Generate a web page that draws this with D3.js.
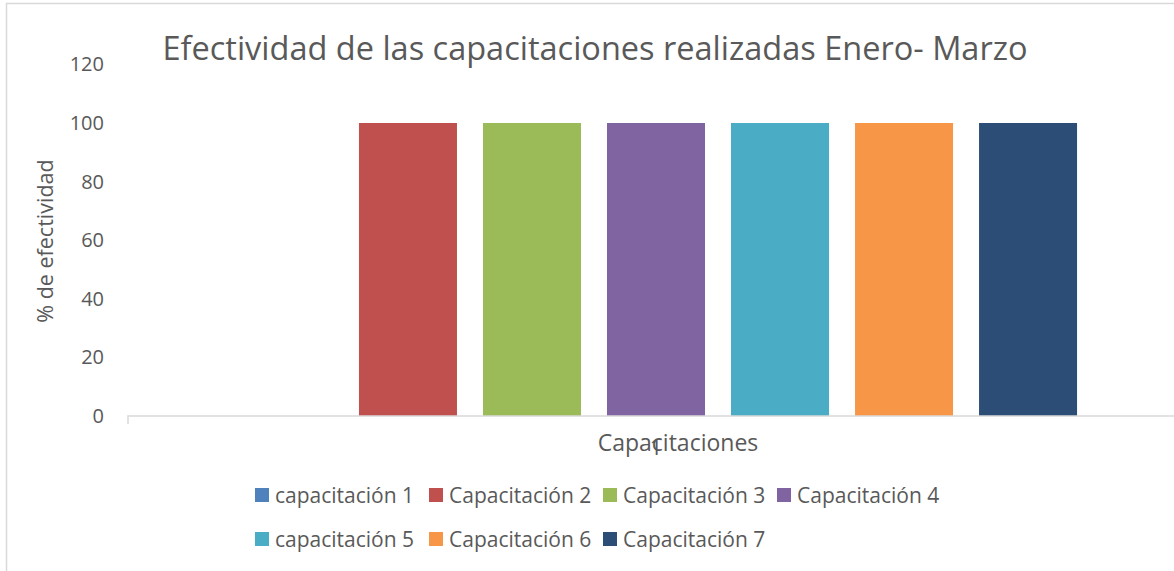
<!DOCTYPE html>
<html>
<head>
<meta charset="utf-8">
<script src="https://cdn.jsdelivr.net/npm/d3@7"></script>
<style>
  html, body { margin: 0; padding: 0; background: #fff; }
  svg { display: block; font-family: "Open Sans", sans-serif; }
</style>
</head>
<body>
<svg id="chart" width="1174" height="571"></svg>
<script>
const title = "Efectividad de las capacitaciones realizadas Enero- Marzo";
const yAxisTitle = "% de efectividad";
const xAxisTitle = "Capacitaciones";
const categories = ["1"];
const seriesNames = ["capacitación 1", "Capacitación 2", "Capacitación 3", "Capacitación 4", "capacitación 5", "Capacitación 6", "Capacitación 7"];
const seriesValues = [0, 100, 100, 100, 100, 100, 100];
const seriesColors = ["#4F81BD", "#C0504D", "#9BBB59", "#8064A2", "#4BACC6", "#F79646", "#2C4D75"];
const yTicks = [0, 20, 40, 60, 80, 100, 120];

const svg = d3.select("#chart");
const textColor = "#595959";

// chart area border
svg.append("rect").attr("x", 6.5).attr("y", 3.5).attr("width", 1177).attr("height", 600)
  .attr("fill", "#fff").attr("stroke", "#d9d9d9").attr("stroke-width", 1.5);

const plot = { left: 128, right: 1184, top: 64.4, bottom: 416 };

const x0 = d3.scaleBand().domain(categories).range([plot.left, plot.right])
  .paddingInner(0).paddingOuter(0.127);
const x1 = d3.scaleBand().domain(seriesNames).range([0, x0.bandwidth()])
  .paddingInner(0.2097).paddingOuter(0);
const y = d3.scaleLinear().domain([0, 120]).range([plot.bottom, plot.top]);

// title
svg.append("text").attr("x", 595).attr("y", 60).attr("text-anchor", "middle")
  .attr("font-size", 32.5).attr("fill", textColor).text(title);

// y axis labels
const yAxis = d3.axisLeft(y).tickValues(yTicks).tickSize(0).tickPadding(0);
const gy = svg.append("g").attr("transform", `translate(104,0)`).call(yAxis);
gy.select(".domain").remove();
gy.selectAll("text").attr("font-size", 20).attr("fill", textColor)
  .attr("font-family", "Open Sans, sans-serif");

// bars
const groups = svg.append("g").selectAll("g").data(categories).join("g")
  .attr("transform", d => `translate(${x0(d)},0)`);
groups.selectAll("rect")
  .data(() => seriesNames.map((s, i) => ({ s, v: seriesValues[i], c: seriesColors[i] })))
  .join("rect")
  .attr("x", d => x1(d.s)).attr("width", x1.bandwidth())
  .attr("y", d => y(d.v)).attr("height", d => y(0) - y(d.v))
  .attr("fill", d => d.c);

// x axis
const xAxis = d3.axisBottom(x0).tickSize(0).tickPadding(0);
const gx = svg.append("g").attr("transform", `translate(0,${plot.bottom})`).call(xAxis);
gx.select(".domain").attr("stroke", "#d9d9d9").attr("stroke-width", 1.5)
  .attr("d", `M${plot.left},8V0H${plot.right}V8`);
gx.selectAll("text").attr("font-size", 22).attr("fill", textColor)
  .attr("font-family", "Open Sans, sans-serif").attr("dy", null).attr("y", 39);

// axis titles
svg.append("text").attr("x", 678).attr("y", 451).attr("text-anchor", "middle")
  .attr("font-size", 23).attr("fill", textColor).text(xAxisTitle);
svg.append("text").attr("transform", "translate(53,241) rotate(-90)")
  .attr("text-anchor", "middle").attr("font-size", 21.5).attr("fill", textColor).text(yAxisTitle);

// legend
const legCols = [255, 429, 603, 777];
const legRows = [503, 547];
const leg = svg.append("g").selectAll("g").data(seriesNames).join("g")
  .attr("transform", (d, i) => `translate(${legCols[i % 4]},${legRows[Math.floor(i / 4)]})`);
leg.append("rect").attr("x", 0).attr("y", -15).attr("width", 14).attr("height", 14)
  .attr("fill", (d, i) => seriesColors[i]);
leg.append("text").attr("x", 20).attr("y", 0).attr("font-size", 21).attr("fill", textColor)
  .text(d => d);
</script>
</body>
</html>
